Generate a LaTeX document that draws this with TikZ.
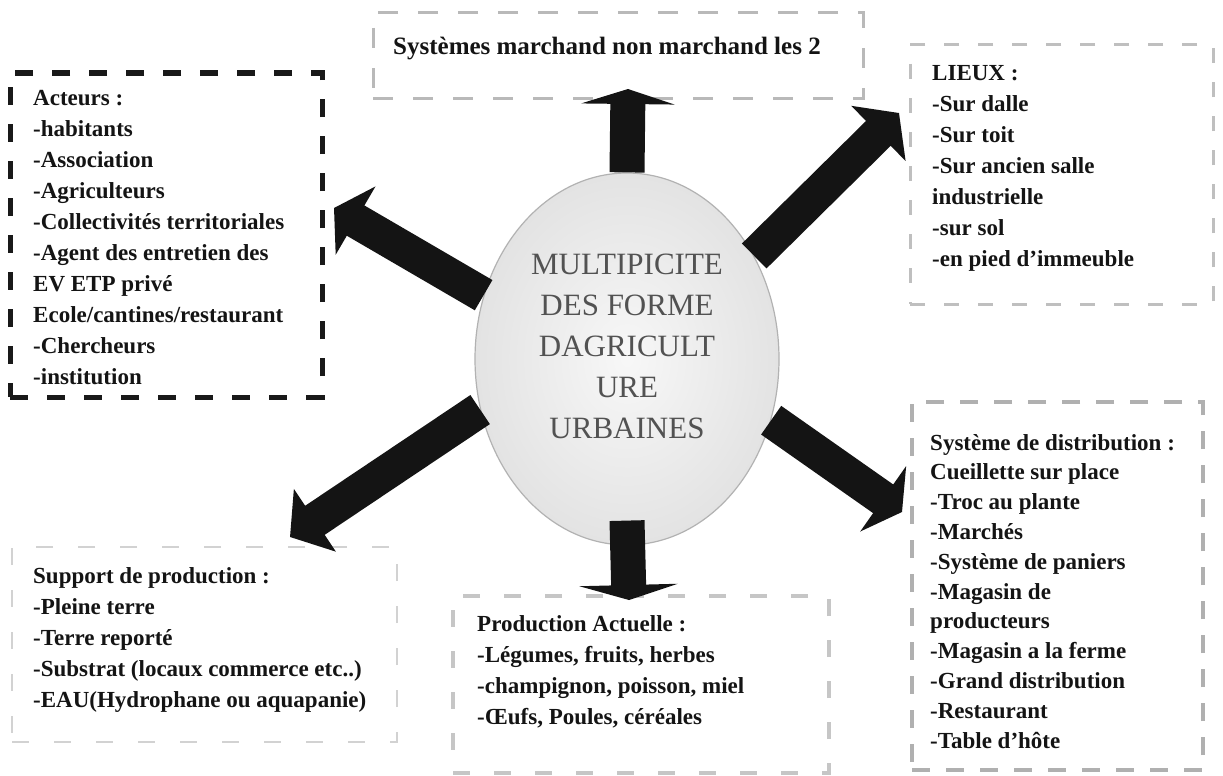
\documentclass[tikz,border=0pt]{standalone}
\usepackage{fontspec}
\setmainfont{Liberation Serif}
\usetikzlibrary{arrows.meta,calc,shapes.geometric}
\begin{document}
\begin{tikzpicture}[x=1pt,y=-1pt,
  frame/.style={draw, rectangle, inner sep=0pt, outer sep=0pt, anchor=north west},
  boxtext/.style={anchor=north west, inner sep=0pt, align=left,
    font=\bfseries\fontsize{23}{31}\selectfont, text=black!92},
  blockarrow/.style={draw=black!92, line width=35pt}
]
\useasboundingbox (0,0) rectangle (1223,776);
\fill[white] (0,0) rectangle (1223,776);

% frames
\node[frame, draw=gray!55, line width=3pt, dash pattern=on 20pt off 20pt,
  minimum width=490pt, minimum height=85pt] (sys) at (373,13) {};
\node[frame, draw=black!90, line width=5pt, dash pattern=on 18pt off 19pt,
  minimum width=312pt, minimum height=324pt] (act) at (10,73) {};
\node[frame, draw=gray!50, line width=3pt, dash pattern=on 15pt off 19pt,
  minimum width=303pt, minimum height=259pt] (lieux) at (910,45) {};
\node[frame, draw=gray!62, line width=3.5pt, dash pattern=on 18pt off 16pt,
  minimum width=291pt, minimum height=368pt] (distr) at (912,402) {};
\node[frame, draw=gray!35, line width=2pt, dash pattern=on 17pt off 25pt,
  minimum width=385pt, minimum height=195pt] (supp) at (12,547) {};
\node[frame, draw=gray!45, line width=4pt, dash pattern=on 17pt off 24pt,
  minimum width=376pt, minimum height=177pt] (prod) at (453,596) {};

% texts
\node[anchor=north west, inner sep=0pt, font=\bfseries\fontsize{25}{30}\selectfont, text=black!92]
  (systxt) at (393,36.5) {Systèmes marchand non marchand les 2};
\node[boxtext] (acttxt) at (33,90) {Acteurs :\\-habitants\\-Association\\-Agriculteurs\\-Collectivités territoriales\\-Agent des entretien des\\EV ETP privé\\Ecole/cantines/restaurant\\-Chercheurs\\-institution};
\node[boxtext] (lieuxtxt) at (932,65.5) {LIEUX :\\-Sur dalle\\-Sur toit\\-Sur ancien salle\\industrielle\\-sur sol\\-en pied d’immeuble};
\node[boxtext, font=\bfseries\fontsize{23}{29.8}\selectfont] (distrtxt) at (930,434) {Système de distribution :\\Cueillette sur place\\-Troc au plante\\-Marchés\\-Système de paniers\\-Magasin de\\producteurs\\-Magasin a la ferme\\-Grand distribution\\-Restaurant\\-Table d’hôte};
\node[boxtext] (supptxt) at (33,567) {Support de production :\\-Pleine terre\\-Terre reporté\\-Substrat (locaux commerce etc..)\\-EAU(Hydrophane ou aquapanie)};
\node[boxtext] (prodtxt) at (477,615) {Production Actuelle :\\-Légumes, fruits, herbes\\-champignon, poisson, miel\\-Œufs, Poules, céréales};

% central ellipse
\node[ellipse, draw=gray!60, line width=1.2pt, inner color=gray!6, outer color=gray!22,
  minimum width=304pt, minimum height=372pt, inner sep=0pt] (ell) at (627,359) {};
\node[align=center, inner sep=0pt, font=\fontsize{31}{41}\selectfont, text=black!68]
  (elltxt) at (627,346) {MULTIPICITE\\DES FORME\\DAGRICULT\\URE\\URBAINES};

% arrow tips
\coordinate (tUp) at (628,89);
\coordinate (tUR) at (899,113);
\coordinate (tUL) at (334,208);
\coordinate (tLL) at (290,537);
\coordinate (tDn) at (629,600);
\coordinate (tLR) at (902,512);

% arrows
\draw[blockarrow, -{Triangle[length=15pt,width=93pt]}] (ell.north) -- (tUp);
\draw[blockarrow, -{Triangle[length=29pt,width=76pt]}] (ell.39) -- (tUR);
\draw[blockarrow, -{Triangle[length=25pt,width=78pt]}] (ell.156) -- (tUL);
\draw[blockarrow, -{Triangle[length=30pt,width=74pt]}] (ell.199) -- (tLL);
\draw[blockarrow, -{Triangle[length=15pt,width=98pt]}] ($(ell.south)+(0,-25)$) -- (tDn);
\draw[blockarrow, -{Triangle[length=23pt,width=79pt]}] (ell.337) -- (tLR);
\end{tikzpicture}
\end{document}
